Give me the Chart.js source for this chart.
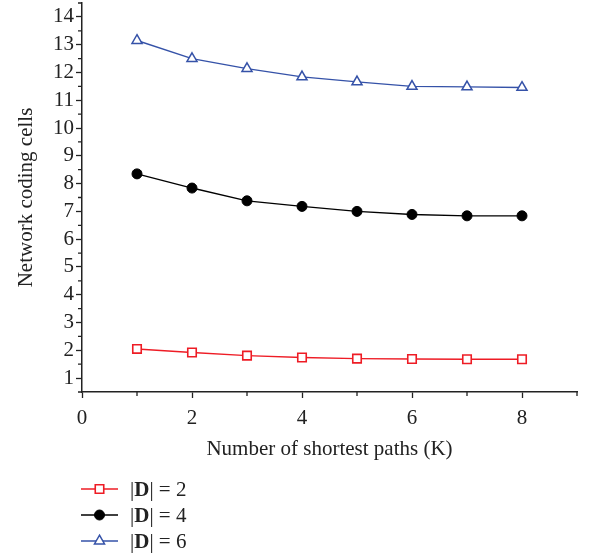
<!DOCTYPE html>
<html lang="en">
<head>
    <meta charset="UTF-8">
    <title>Network coding cells vs K</title>
    <script src="https://cdn.jsdelivr.net/npm/chart.js"></script>
    <style>
        body {
            margin: 0;
            background: #ffffff;
            font-family: "Liberation Serif", serif;
            color: #222;
        }
        .page {
            position: relative;
            width: 610px;
            height: 559px;
        }
        .chart-box {
            position: absolute;
            left: 0;
            top: 0;
            width: 610px;
            height: 470px;
        }
        .legend {
            position: absolute;
            left: 80px;
            top: 476px;
            font-size: 21px;
        }
        .legend-item {
            display: flex;
            align-items: center;
            height: 26px;
        }
        .legend-item canvas {
            width: 40px;
            height: 20px;
            margin-right: 10px;
        }
        .legend-item b { font-weight: 700; }
    </style>
</head>
<body>
    <div class="page">
        <div class="chart-box">
            <canvas id="chart"></canvas>
        </div>
        <div class="legend" id="legend"></div>
    </div>

    <script>
        // data
        const kValues = [1, 2, 3, 4, 5, 6, 7, 8];
        const d2Cells = [2.05, 1.92, 1.81, 1.74, 1.70, 1.69, 1.68, 1.68];
        const d4Cells = [8.35, 7.84, 7.38, 7.18, 7.00, 6.89, 6.84, 6.84];
        const d6Cells = [13.15, 12.50, 12.14, 11.84, 11.66, 11.50, 11.48, 11.46];
        const seriesSizes = [2, 4, 6];
        const yTicks = [1, 2, 3, 4, 5, 6, 7, 8, 9, 10, 11, 12, 13, 14];
        const xTicks = [0, 2, 4, 6, 8];

        const serif = '"Liberation Serif", serif';
        const axisColor = '#222';
        const fontSize = 21;

        function toPoints(ys) {
            return kValues.map((k, i) => ({ x: k, y: ys[i] }));
        }

        const datasets = [
            {
                label: '|D| = 2',
                data: toPoints(d2Cells),
                borderColor: '#ee1c25',
                backgroundColor: '#ffffff',
                pointStyle: 'rect',
                pointRadius: 6,
                pointBorderWidth: 1.6
            },
            {
                label: '|D| = 4',
                data: toPoints(d4Cells),
                borderColor: '#000000',
                backgroundColor: '#000000',
                pointStyle: 'circle',
                pointRadius: 5,
                pointBorderWidth: 1
            },
            {
                label: '|D| = 6',
                data: toPoints(d6Cells),
                borderColor: '#3552a8',
                backgroundColor: '#ffffff',
                pointStyle: 'triangle',
                pointRadius: 5.8,
                pointBorderWidth: 1.5
            }
        ];
        datasets.forEach(ds => {
            ds.borderWidth = 1.4;
            ds.pointBackgroundColor = ds.backgroundColor;
            ds.pointBorderColor = ds.borderColor;
            ds.tension = 0;
        });

        // small minor ticks between the labelled ones
        const minorTicks = {
            id: 'minorTicks',
            afterDraw(chart) {
                const ctx = chart.ctx;
                const xs = chart.scales.x;
                const ys = chart.scales.y;
                ctx.save();
                ctx.strokeStyle = axisColor;
                ctx.lineWidth = 1.3;
                ctx.beginPath();
                for (let v = xs.min + 1; v <= xs.max; v += 2) {
                    const px = xs.getPixelForValue(v);
                    ctx.moveTo(px, ys.bottom);
                    ctx.lineTo(px, ys.bottom + 4);
                }
                for (let v = ys.min; v <= ys.max; v += 1) {
                    const py = ys.getPixelForValue(v);
                    ctx.moveTo(xs.left, py);
                    ctx.lineTo(xs.left - 4, py);
                }
                ctx.stroke();
                ctx.restore();
            }
        };

        new Chart(document.getElementById('chart'), {
            type: 'line',
            data: { datasets: datasets },
            options: {
                responsive: true,
                maintainAspectRatio: false,
                animation: false,
                layout: { autoPadding: false, padding: { top: 3, right: 33, left: 0, bottom: 0 } },
                plugins: {
                    legend: { display: false },
                    tooltip: { enabled: false }
                },
                scales: {
                    x: {
                        type: 'linear',
                        min: 0,
                        max: 9,
                        afterBuildTicks: s => { s.ticks = xTicks.map(v => ({ value: v })); },
                        afterFit: s => { s.height = 78; s.paddingLeft = 0; s.paddingRight = 0; },
                        border: { color: axisColor, width: 1.5 },
                        grid: { drawOnChartArea: false, tickLength: 6, tickColor: axisColor, tickWidth: 1.3 },
                        ticks: { color: '#222', font: { family: serif, size: fontSize }, padding: 8, maxRotation: 0 },
                        title: {
                            display: true,
                            text: 'Number of shortest paths (K)',
                            color: '#222',
                            font: { family: serif, size: fontSize },
                            padding: { top: 0, bottom: 8 }
                        }
                    },
                    y: {
                        type: 'linear',
                        min: 0.5,
                        max: 14.5,
                        afterBuildTicks: s => { s.ticks = yTicks.map(v => ({ value: v })); },
                        afterFit: s => { s.width = 82; s.paddingTop = 0; s.paddingBottom = 0; },
                        border: { color: axisColor, width: 1.5 },
                        grid: { drawOnChartArea: false, tickLength: 6, tickColor: axisColor, tickWidth: 1.3 },
                        ticks: { color: '#222', font: { family: serif, size: fontSize }, padding: 2 },
                        title: {
                            display: true,
                            text: 'Network coding cells',
                            color: '#222',
                            font: { family: serif, size: fontSize },
                            padding: { top: 14, bottom: 0 }
                        }
                    }
                }
            },
            plugins: [minorTicks]
        });

        // legend below the chart, one row per series
        const legendEl = document.getElementById('legend');
        datasets.forEach((ds, i) => {
            const row = document.createElement('div');
            row.className = 'legend-item';
            const c = document.createElement('canvas');
            const ratio = window.devicePixelRatio || 1;
            c.width = 40 * ratio;
            c.height = 20 * ratio;
            const ctx = c.getContext('2d');
            ctx.scale(ratio, ratio);
            ctx.strokeStyle = ds.borderColor;
            ctx.lineWidth = ds.borderWidth;
            ctx.beginPath();
            ctx.moveTo(1, 10);
            ctx.lineTo(38, 10);
            ctx.stroke();
            ctx.fillStyle = ds.pointBackgroundColor;
            ctx.lineWidth = ds.pointBorderWidth;
            Chart.helpers.drawPoint(ctx, {
                pointStyle: ds.pointStyle,
                radius: ds.pointRadius,
                borderWidth: ds.pointBorderWidth,
                rotation: 0
            }, 19.5, 10);
            row.appendChild(c);
            const label = document.createElement('span');
            label.innerHTML = '|<b>D</b>| = ' + seriesSizes[i];
            row.appendChild(label);
            legendEl.appendChild(row);
        });
    </script>
</body>
</html>
